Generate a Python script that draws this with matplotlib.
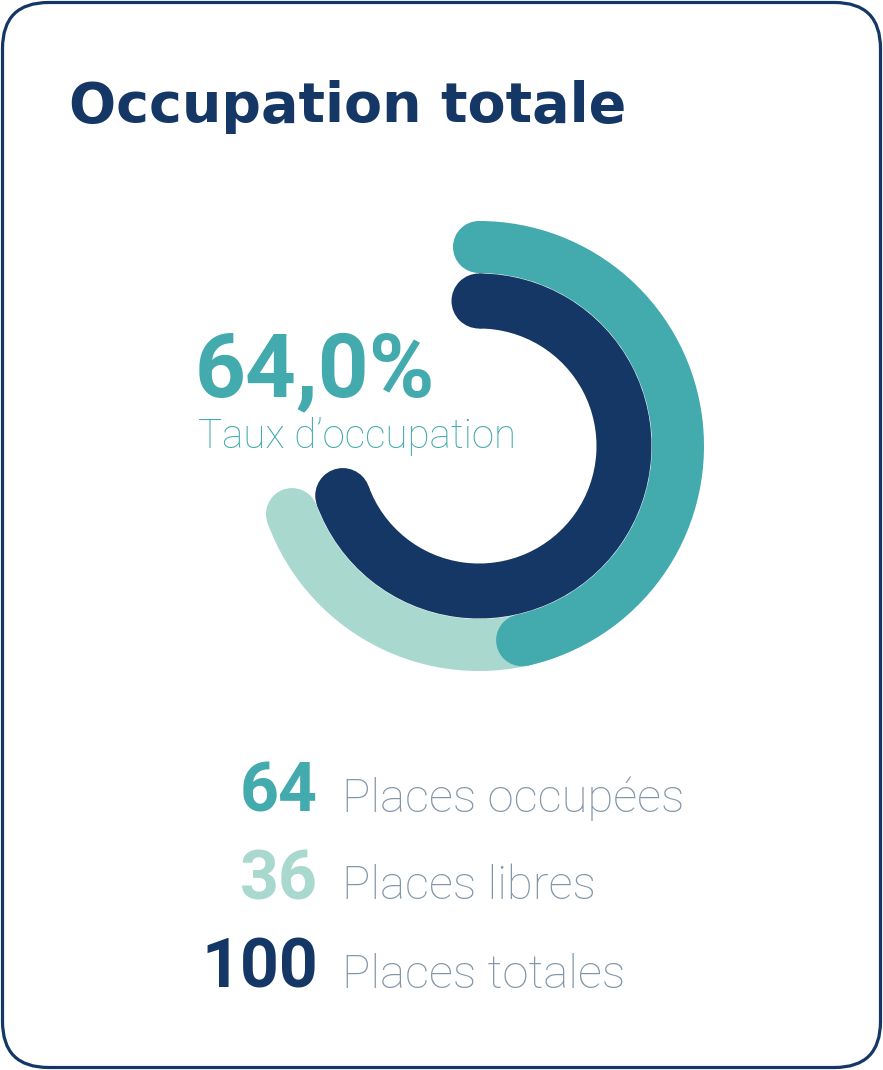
import numpy as np
import matplotlib
matplotlib.use("Agg")
import matplotlib.pyplot as plt
from matplotlib.patches import Wedge, Circle, FancyBboxPatch

W, H = 883, 1070

titre = "Occupation totale"
sous_titre = "Taux d’occupation"
taux = 64.0
libelles = ["Places occupées", "Places libres", "Places totales"]
valeurs = [64, 36, 100]
couleurs = ["#43AAAE", "#A8D8CE", "#153765"]

navy = "#153765"
gris = "#8296A9"
police = ["Roboto", "DejaVu Sans"]

# balayage max de l'anneau (degres, sens horaire depuis le haut)
balayage = 250.0

fig = plt.figure(figsize=(W / 100, H / 100), dpi=100)
ax = fig.add_axes([0, 0, 1, 1])
ax.set_xlim(0, W)
ax.set_ylim(H, 0)
ax.axis("off")

# cadre arrondi
ax.add_patch(FancyBboxPatch((2.5, 2.5), W - 5, H - 5,
                            boxstyle="round,pad=0,rounding_size=46",
                            fc="white", ec=navy, lw=2.3, zorder=0))

cx, cy = 479, 446


def arc(r_ext, larg, a0, a1, couleur, z, depasse=False):
    # angles en degres, horaire depuis midi ; y inverse => Wedge tourne en horaire
    rm = r_ext - larg / 2
    if depasse:
        # le bout arrondi deborde sur le segment suivant
        a1 = a1 + np.degrees(larg / 2 / rm)
    ax.add_patch(Wedge((cx, cy), r_ext, -90 + a0, -90 + a1, width=larg,
                       fc=couleur, lw=0, zorder=z))
    for a in (a0, a1):
        t = np.radians(-90 + a)
        ax.add_patch(Circle((cx + rm * np.cos(t), cy + rm * np.sin(t)), larg / 2,
                            fc=couleur, lw=0, zorder=z))


total = valeurs[2]
fin_occ = valeurs[0] / total * balayage
arc(225, 52, fin_occ, balayage, couleurs[1], 2)
arc(225, 52, 0, fin_occ, couleurs[0], 3, depasse=True)
arc(172.5, 55, 0, valeurs[2] / total * balayage, couleurs[2], 4)

# textes
ax.text(69, 122, titre, fontsize=40, fontweight="bold", color=navy,
        family=["DejaVu Sans"], va="baseline")
ax.text(195, 396, f"{taux:.1f}%".replace(".", ","), fontsize=64, fontweight="bold",
        color=couleurs[0], family=police, va="baseline")
ax.text(198, 448, sous_titre, fontsize=29, fontweight="light",
        color=couleurs[0], family=police, va="baseline")

bases = [812, 899, 988]
for v, lib, c, y in zip(valeurs, libelles, couleurs, bases):
    ax.text(318, y, str(v), fontsize=49, fontweight="bold", color=c,
            family=police, ha="right", va="baseline")
    ax.text(342, y, lib, fontsize=34, fontweight="light", color=gris,
            family=police, va="baseline")

fig.savefig("out.png", dpi=100)
